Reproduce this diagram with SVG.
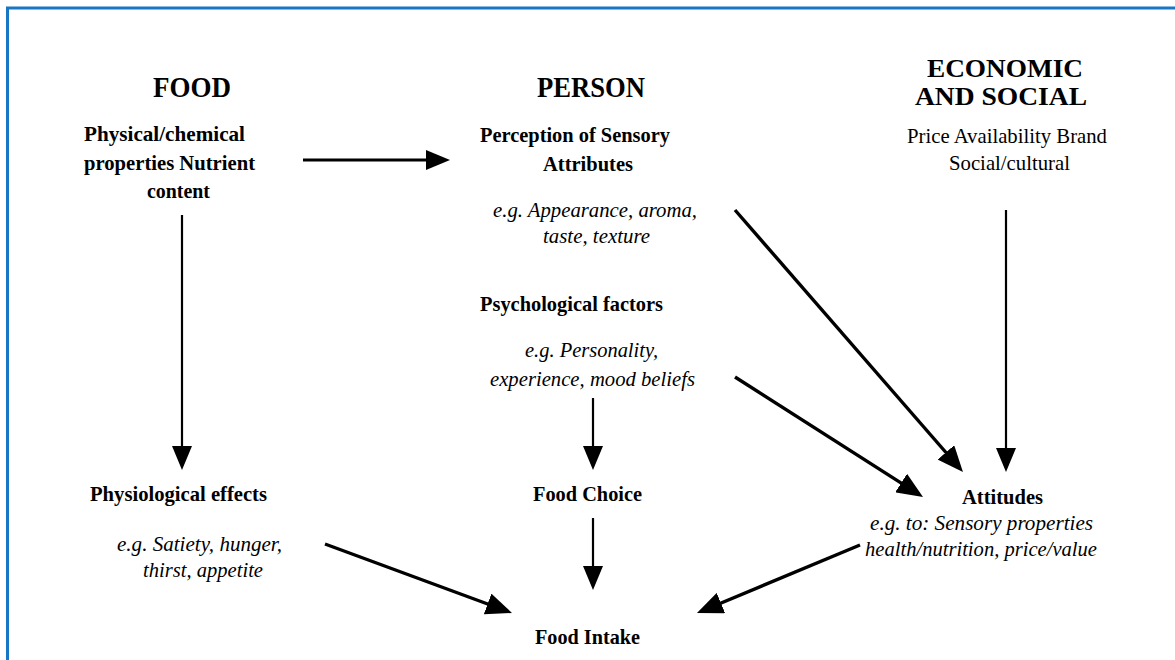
<svg xmlns="http://www.w3.org/2000/svg" width="1175" height="660" viewBox="0 0 1175 660">
<defs>
<marker id="ah" viewBox="0 0 24 20" refX="14" refY="10" markerWidth="24" markerHeight="20" markerUnits="userSpaceOnUse" orient="auto">
<path d="M0,0 L24,10 L0,20 Z" fill="#000"/>
</marker>
<marker id="ahl" viewBox="0 0 26 22" refX="16" refY="11" markerWidth="26" markerHeight="22" markerUnits="userSpaceOnUse" orient="auto">
<path d="M0,0 L26,11 L0,22 Z" fill="#000"/>
</marker>
<style>
text{font-family:"Liberation Serif","Times New Roman",serif;fill:#000}
.h{font-size:29px;font-weight:bold}
.h2{font-size:25px;font-weight:bold}
.b{font-size:21px;font-weight:bold}
.i{font-size:21px;font-style:italic}
.r{font-size:21px}
.c line{stroke:#000;stroke-width:3;marker-end:url(#ah)}
.c line.v{stroke-width:2.2}
.c line.d{stroke-width:3.4;marker-end:url(#ahl)}
</style>
</defs>
<rect x="0" y="0" width="1175" height="660" fill="#fff"/>
<rect x="7.5" y="8" width="1200" height="700" fill="none" stroke="#1777c4" stroke-width="3"/>
<g id="food">
<text class="h" x="153" y="97" textLength="78" lengthAdjust="spacingAndGlyphs">FOOD</text>
<text class="b" x="84" y="141" textLength="161" lengthAdjust="spacingAndGlyphs">Physical/chemical</text>
<text class="b" x="84" y="170" textLength="171" lengthAdjust="spacingAndGlyphs">properties Nutrient</text>
<text class="b" x="147" y="198" textLength="63" lengthAdjust="spacingAndGlyphs">content</text>
</g>
<g id="person">
<text class="h" x="537" y="97" textLength="108" lengthAdjust="spacingAndGlyphs">PERSON</text>
<text class="b" x="480" y="142" textLength="190" lengthAdjust="spacingAndGlyphs">Perception of Sensory</text>
<text class="b" x="543" y="171" textLength="90" lengthAdjust="spacingAndGlyphs">Attributes</text>
<text class="i" x="493" y="217" textLength="204" lengthAdjust="spacingAndGlyphs">e.g. Appearance, aroma,</text>
<text class="i" x="543" y="243" textLength="107" lengthAdjust="spacingAndGlyphs">taste, texture</text>
</g>
<g id="economic">
<text class="h2" x="927" y="77" textLength="156" lengthAdjust="spacingAndGlyphs">ECONOMIC</text>
<text class="h2" x="915" y="105" textLength="172" lengthAdjust="spacingAndGlyphs">AND SOCIAL</text>
<text class="r" x="907" y="143" textLength="200" lengthAdjust="spacingAndGlyphs">Price Availability Brand</text>
<text class="r" x="949" y="170" textLength="121" lengthAdjust="spacingAndGlyphs">Social/cultural</text>
</g>
<g id="psychological">
<text class="b" x="480" y="311" textLength="183" lengthAdjust="spacingAndGlyphs">Psychological factors</text>
<text class="i" x="525" y="357" textLength="133" lengthAdjust="spacingAndGlyphs">e.g. Personality,</text>
<text class="i" x="490" y="386" textLength="205" lengthAdjust="spacingAndGlyphs">experience, mood beliefs</text>
</g>
<g id="physiological">
<text class="b" x="90" y="501" textLength="177" lengthAdjust="spacingAndGlyphs">Physiological effects</text>
<text class="i" x="117" y="551" textLength="165" lengthAdjust="spacingAndGlyphs">e.g. Satiety, hunger,</text>
<text class="i" x="143" y="577" textLength="120" lengthAdjust="spacingAndGlyphs">thirst, appetite</text>
</g>
<g id="food-choice">
<text class="b" x="533" y="501" textLength="109" lengthAdjust="spacingAndGlyphs">Food Choice</text>
</g>
<g id="attitudes">
<text class="b" x="962" y="504" textLength="81" lengthAdjust="spacingAndGlyphs">Attitudes</text>
<text class="i" x="870" y="530" textLength="223" lengthAdjust="spacingAndGlyphs">e.g. to:  Sensory properties</text>
<text class="i" x="865" y="556" textLength="232" lengthAdjust="spacingAndGlyphs">health/nutrition, price/value</text>
</g>
<g id="food-intake">
<text class="b" x="535" y="644" textLength="105" lengthAdjust="spacingAndGlyphs">Food Intake</text>
</g>
<g id="connectors" class="c">
<line x1="303" y1="160" x2="440" y2="160"/>
<line class="v" x1="182" y1="215" x2="182" y2="460"/>
<line class="d" x1="325" y1="544" x2="502.6" y2="609.5"/>
<line class="v" x1="593" y1="398" x2="593" y2="460"/>
<line class="v" x1="593" y1="518" x2="593" y2="580"/>
<line class="d" x1="860" y1="545" x2="706.2" y2="609.2"/>
<line class="d" x1="735" y1="210" x2="956.4" y2="464.5"/>
<line class="d" x1="735" y1="377" x2="914.6" y2="491.6"/>
<line class="v" x1="1006" y1="210" x2="1006" y2="462"/>
</g>
</svg>
